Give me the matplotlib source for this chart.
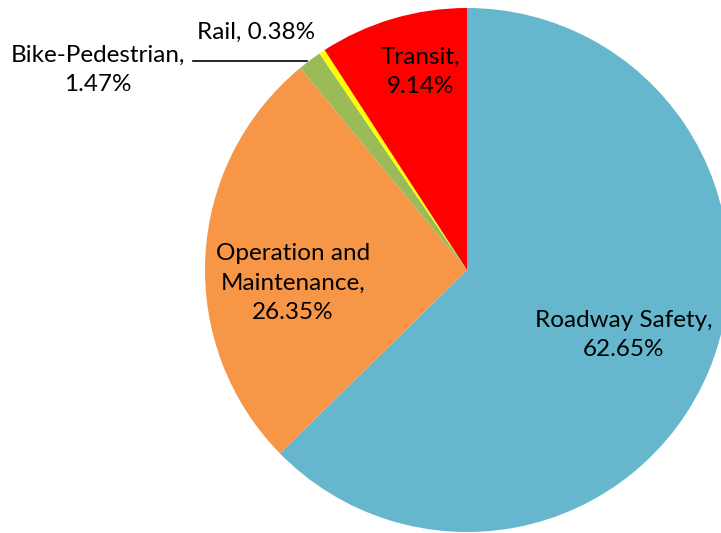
import matplotlib.pyplot as plt

categories = ['Roadway Safety', 'Operation and\nMaintenance', 'Bike-Pedestrian', 'Rail', 'Transit']
shares = [62.65, 26.35, 1.47, 0.38, 9.14]
colors = ['#66B7CE', '#F79646', '#9BBB59', '#FFFF00', '#FF0000']

plt.rcParams['font.family'] = ['Lato', 'DejaVu Sans']

fig = plt.figure(figsize=(7.21, 5.33), dpi=100)
ax = fig.add_axes([0, 0, 1, 1])

ax.pie(shares, colors=colors, startangle=90, counterclock=False,
       center=(467, 263), radius=262, frame=True,
       wedgeprops=dict(linewidth=0))
ax.set_xlim(0, 721)
ax.set_ylim(0, 533)
ax.axis('off')

labels = [f'{c},\n{v:.2f}%' for c, v in zip(categories, shares)]
labels[3] = f'{categories[3]}, {shares[3]:.2f}%'
pos = [(624, 198), (293, 250), (98, 463), (256, 501), (420, 461)]
fs = 17.5
for lab, (x, y) in zip(labels, pos):
    ax.text(x, y, lab, ha='center', va='center', fontsize=fs,
            linespacing=1.5, color='black')

ax.plot([193, 307], [472, 472], color='black', linewidth=1.2)

fig.savefig('out.png', dpi=100)
